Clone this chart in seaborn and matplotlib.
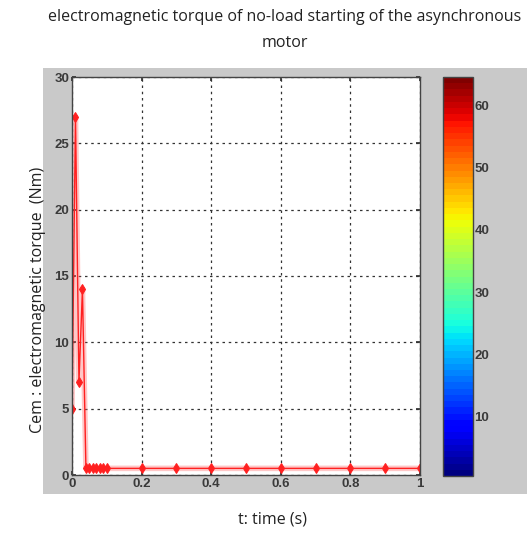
import numpy as np
import pandas as pd
import matplotlib
matplotlib.use("Agg")
import matplotlib.pyplot as plt
import seaborn as sns
from matplotlib.patches import Rectangle

# data
t = [0.0, 0.01, 0.02, 0.03, 0.04, 0.05, 0.06, 0.07, 0.08, 0.09, 0.1,
     0.2, 0.3, 0.4, 0.5, 0.6, 0.7, 0.8, 0.9, 1.0]
cem = [5.0, 27.0, 7.0, 14.0, 0.5, 0.5, 0.5, 0.5, 0.5, 0.5, 0.5,
       0.5, 0.5, 0.5, 0.5, 0.5, 0.5, 0.5, 0.5, 0.5]
xticks = [0, 0.2, 0.4, 0.6, 0.8, 1]
xticklabels = ["0", "0.2", "0.4", "0.6", "0.8", "1"]
yticks = [0, 5, 10, 15, 20, 25, 30]
cbar_ticks = [10, 20, 30, 40, 50, 60]
title = "electromagnetic torque of no-load starting of the asynchronous\nmotor"
xlabel = "t: time (s)"
ylabel = "Cem : electromagnetic torque  (Nm)"

df = pd.DataFrame({"t": t, "Cem": cem})

sns.set_theme(style="white")
plt.rcParams['font.family'] = ['Open Sans', 'DejaVu Sans']

W, H = 527, 534
fig = plt.figure(figsize=(W / 100, H / 100), dpi=100)
fig.patch.set_facecolor("white")
fig.patches.append(Rectangle((43 / W, 1 - 494 / H), 1 - 43 / W, (494 - 68) / H,
                             transform=fig.transFigure, facecolor="#c9c9c9",
                             edgecolor="none", zorder=-10))

ax = fig.add_axes([72 / W, 1 - 475 / H, (420 - 72) / W, (475 - 77) / H])
ax.set_zorder(2)
ax.set_facecolor("white")
# soft halo line
sns.lineplot(data=df, x="t", y="Cem", ax=ax, color="#ff6060", linewidth=4,
             alpha=0.35, legend=False)
sns.lineplot(data=df, x="t", y="Cem", ax=ax, color="#ff2020", linewidth=1.0,
             marker="d", markersize=5, markeredgecolor="#ff2020",
             markerfacecolor="#ff2020", legend=False)

ax.set_xlim(0, 1)
ax.set_ylim(0, 30)
ax.set_xticks(xticks)
ax.set_xticklabels(xticklabels)
ax.set_yticks(yticks)
tick_family = ['Liberation Sans', 'DejaVu Sans']
for lab in ax.get_xticklabels() + ax.get_yticklabels():
    lab.set_fontfamily(tick_family)
    lab.set_fontweight('bold')
    lab.set_fontsize(9.5)
    lab.set_color("#3a3a3a")
ax.tick_params(axis='both', direction='in', length=3, color='#333333', pad=2,
               bottom=True, left=True, top=True, right=True)
ax.grid(True, color='#333333', linestyle=(0, (2, 3)), linewidth=0.9)
for s in ax.spines.values():
    s.set_color("#444444")
    s.set_linewidth(1.0)
ax.set_xlabel("")
ax.set_ylabel("")

# colorbar
cax = fig.add_axes([443 / W, 1 - 476 / H, 30 / W, (476 - 77) / H])
cax.set_zorder(2)
norm = matplotlib.colors.Normalize(vmin=0.5, vmax=64.5)
sm = matplotlib.cm.ScalarMappable(norm=norm, cmap=matplotlib.colormaps['jet'].resampled(64))
cb = fig.colorbar(sm, cax=cax, ticks=cbar_ticks)
cb.outline.set_edgecolor("#444444")
cb.outline.set_linewidth(1.0)
cax.tick_params(direction='in', length=3, color='#333333', pad=1, left=True, right=True)
for lab in cax.get_yticklabels():
    lab.set_fontfamily(tick_family)
    lab.set_fontweight('bold')
    lab.set_fontsize(9.5)
    lab.set_color("#3a3a3a")

fig.text(285 / W, 1 - 30 / H, title, ha='center', va='center', fontsize=11.5,
         color="#222222", linespacing=1.8)
fig.text(272 / W, 1 - 520 / H, xlabel, ha='center', va='center', fontsize=11.5,
         color="#222222")
fig.text(38 / W, 1 - 300 / H, ylabel, ha='center', va='center', rotation=90,
         fontsize=11.5, color="#222222")

fig.savefig("out.png", dpi=100)
